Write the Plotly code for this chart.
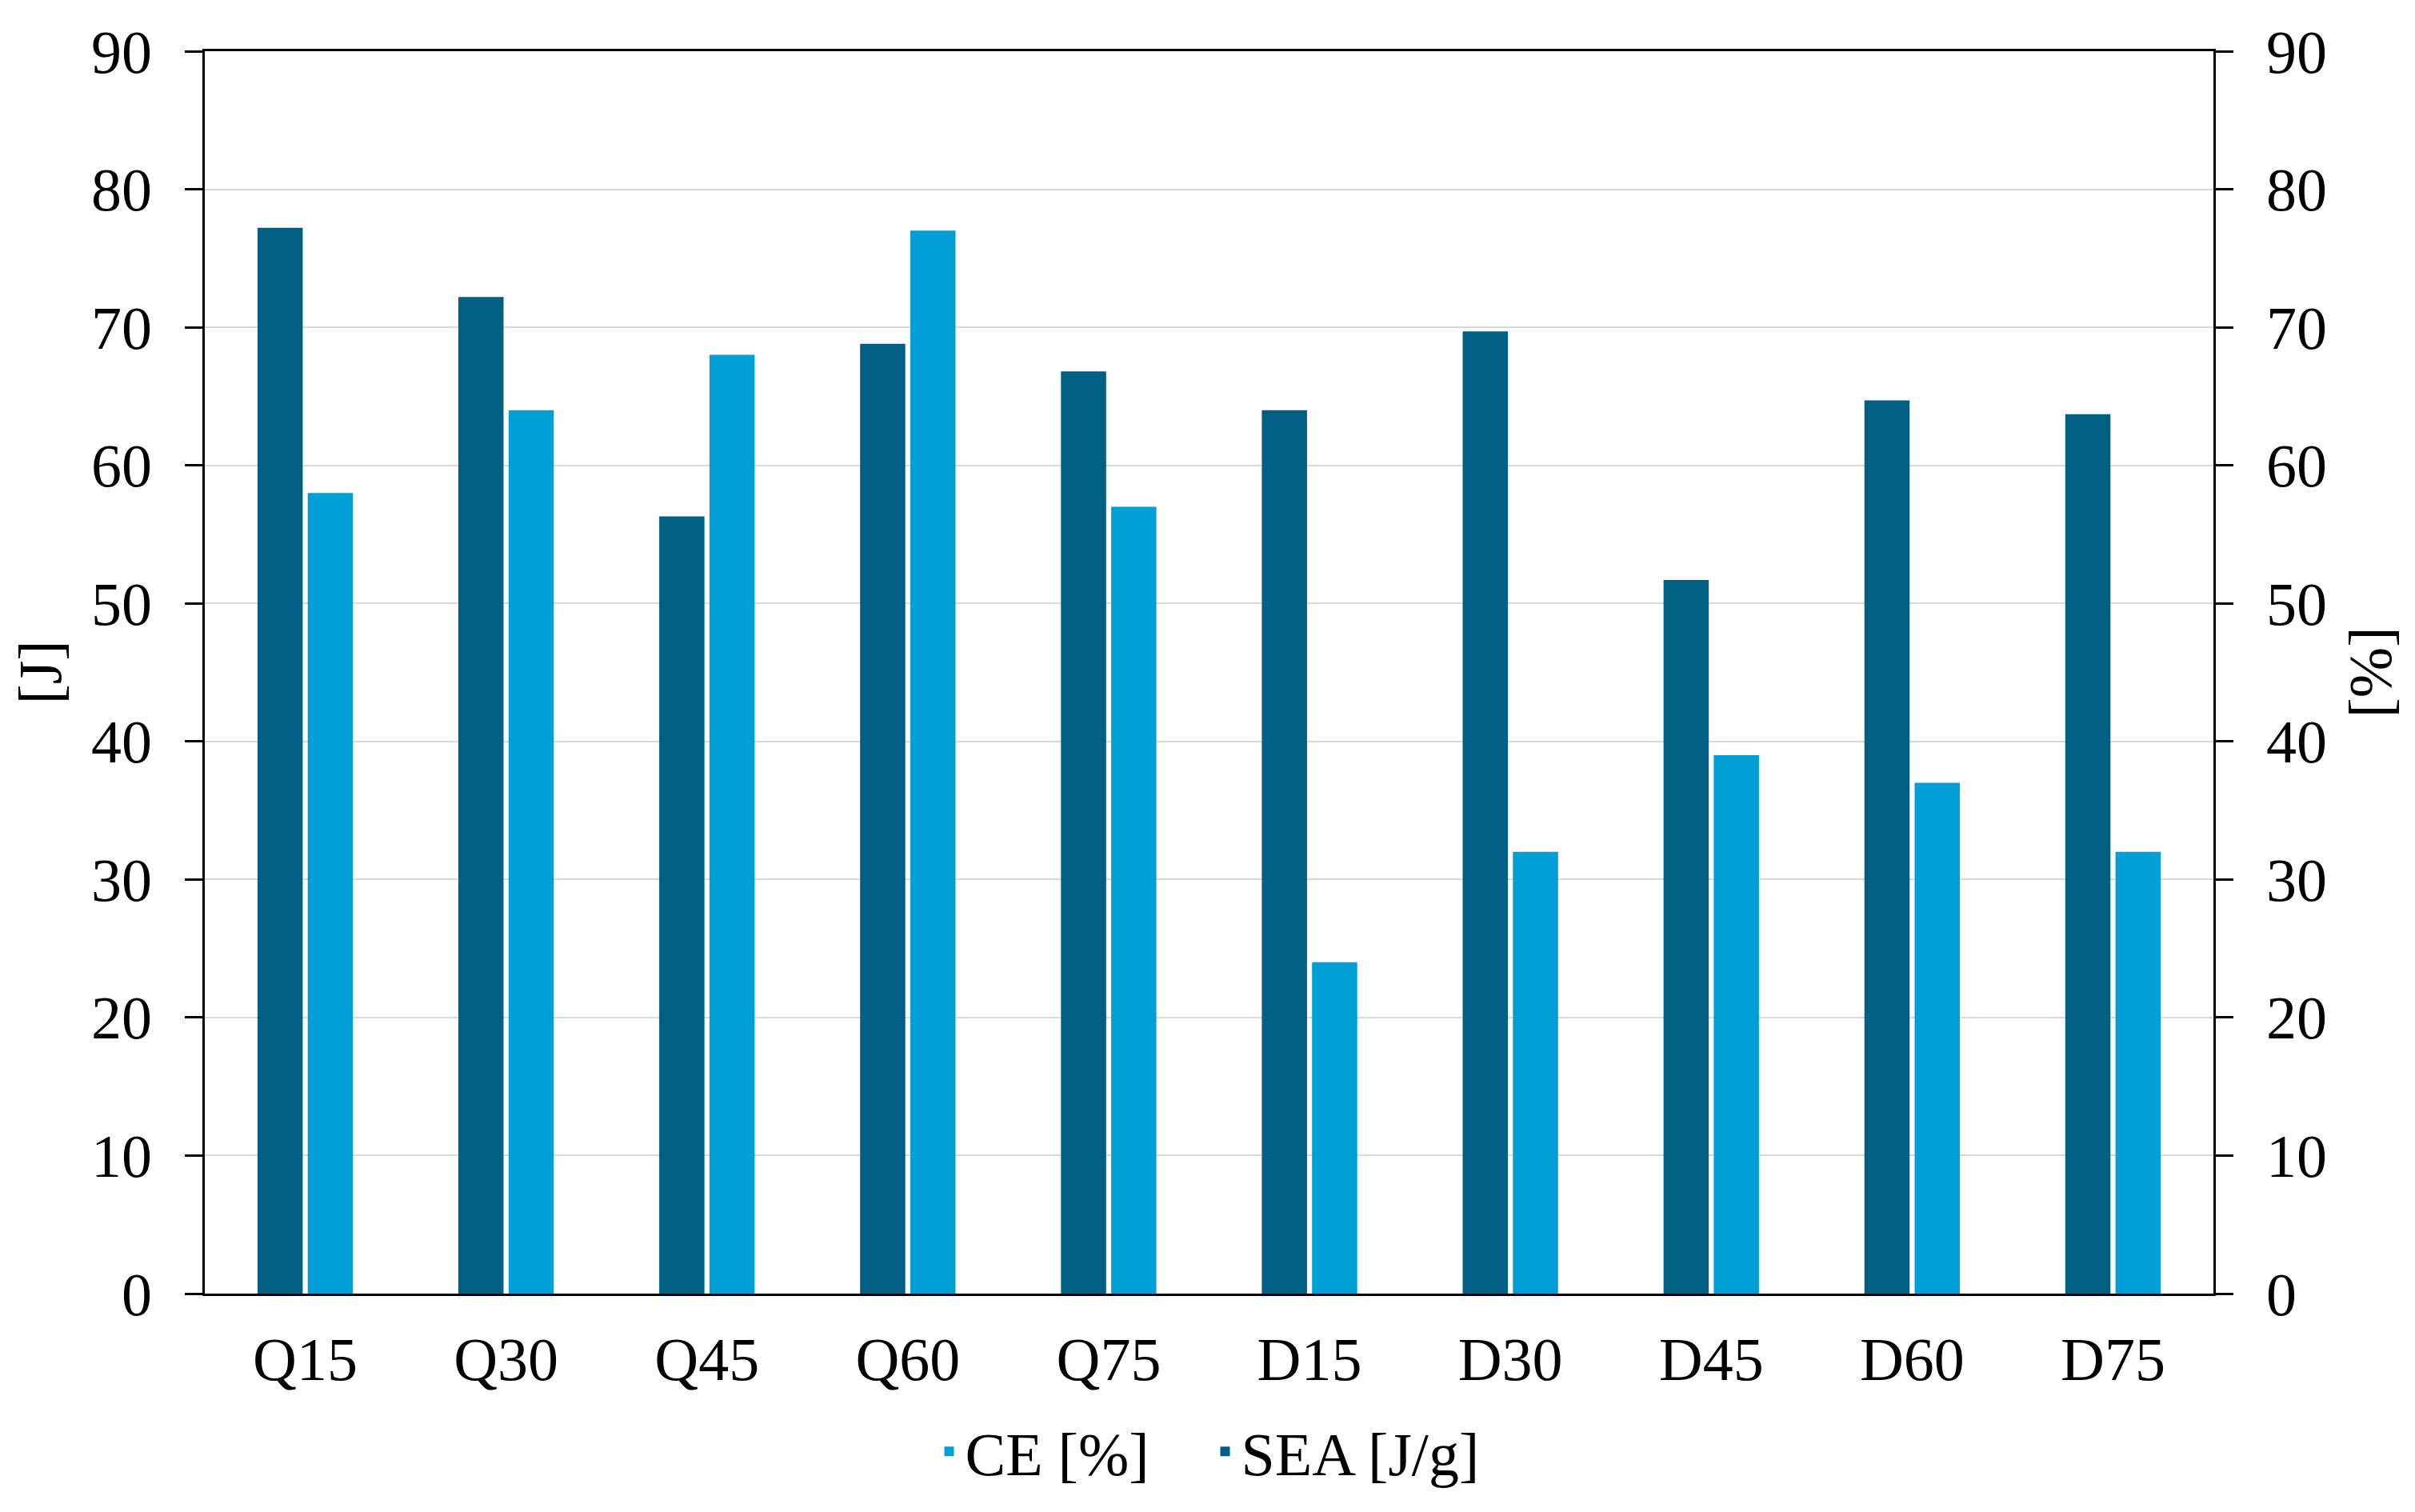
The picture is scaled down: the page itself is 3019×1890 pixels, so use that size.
import plotly.graph_objects as go

categories = ["Q15", "Q30", "Q45", "Q60", "Q75", "D15", "D30", "D45", "D60", "D75"]
sea_values = [77.2, 72.2, 56.3, 68.8, 66.8, 64.0, 69.7, 51.7, 64.7, 63.7]
ce_values = [58, 64, 68, 77, 57, 24, 32, 39, 37, 32]
y_ticks = [0, 10, 20, 30, 40, 50, 60, 70, 80, 90]

FONT = "Liberation Serif"
FS = 76
DARK = "#005F82"
LIGHT = "#00A0D6"

fig = go.Figure()
fig.add_trace(go.Bar(
    x=categories, y=sea_values, name="SEA [J/g]", marker_color=DARK,
    marker_line_width=0, offsetgroup="sea", yaxis="y", legendrank=2,
))
fig.add_trace(go.Bar(
    x=categories, y=ce_values, name="CE [%]", marker_color=LIGHT,
    marker_line_width=0, offsetgroup="ce", yaxis="y2", legendrank=1,
))

axis_common = dict(
    range=[0, 90], tickvals=y_ticks, ticks="outside", ticklen=22, tickwidth=2.5,
    tickcolor="black", showline=True, linecolor="black", linewidth=2.5,
    zeroline=False, tickfont=dict(family=FONT, size=FS, color="black"),
    ticklabelstandoff=26,
)

fig.update_layout(
    width=3019, height=1890,
    margin=dict(l=248, r=260, t=56, b=281),
    paper_bgcolor="white", plot_bgcolor="white",
    font=dict(family=FONT, size=FS, color="black"),
    barmode="group", bargap=0.5, bargroupgap=0.1,
    xaxis=dict(
        showline=True, linecolor="black", linewidth=2.5, mirror=True,
        ticks="", tickfont=dict(family=FONT, size=FS, color="black"),
        ticklabelstandoff=14,
    ),
    yaxis=dict(
        **axis_common, side="left", showgrid=True, gridcolor="#d9d9d9", gridwidth=2,
        title=dict(text="[J]", font=dict(family=FONT, size=FS, color="black"), standoff=14),
    ),
    yaxis2=dict(
        **axis_common, side="right", overlaying="y", showgrid=False,
        title=dict(text="[%]", font=dict(family=FONT, size=FS, color="black"), standoff=28),
    ),
    legend=dict(
        orientation="h", x=0.5, xanchor="center", y=-0.127, yanchor="middle",
        font=dict(family=FONT, size=FS, color="black"), traceorder="normal",
        entrywidth=300,
    ),
)

fig.write_html("out.html")
